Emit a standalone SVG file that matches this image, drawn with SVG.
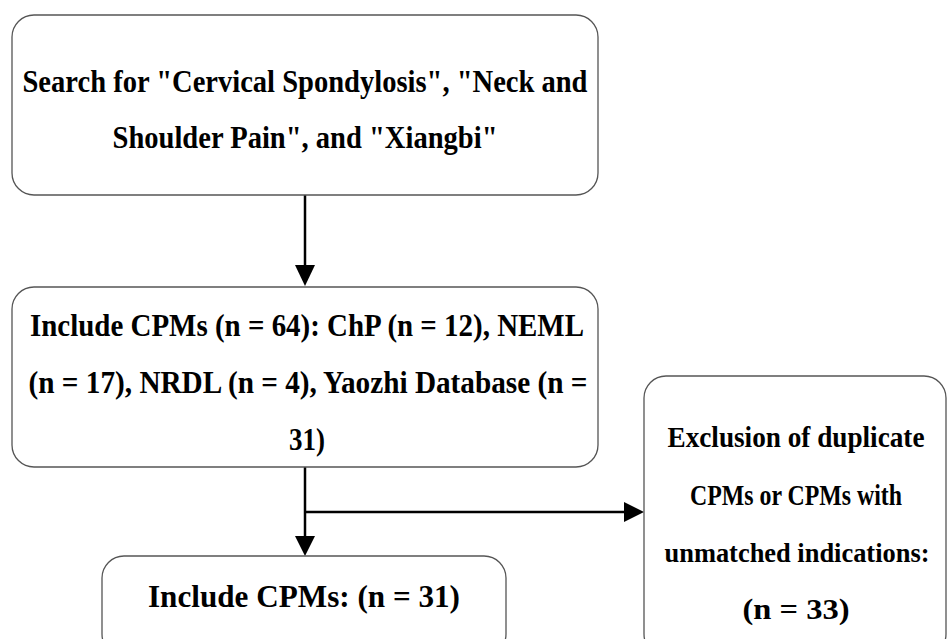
<svg xmlns="http://www.w3.org/2000/svg" width="948" height="639" viewBox="0 0 948 639">
<defs>
<style>
.box{fill:#fff;stroke:#555;stroke-width:1.3}
.t{font-family:"Liberation Serif","Times New Roman",serif;font-weight:bold;font-size:31px;fill:#000;text-anchor:middle}
.s{font-size:29px}
.xs{font-size:27px}
.c{stroke:#000;stroke-width:2.5;fill:none}
</style>
</defs>
<rect width="948" height="639" fill="#fff"/>
<g id="connectors">
<line class="c" x1="305" y1="195" x2="305" y2="266"/>
<path d="M295,265 L315,265 L305,286 Z" fill="#000"/>
<line class="c" x1="305" y1="467" x2="305" y2="537"/>
<path d="M295,536 L315,536 L305,556 Z" fill="#000"/>
<line class="c" x1="305" y1="512" x2="625" y2="512"/>
<path d="M624,502 L644,512 L624,522 Z" fill="#000"/>
</g>
<g id="node1">
<rect class="box" x="12" y="15" width="586" height="180" rx="22"/>
<text class="t" x="305" y="92" textLength="565" lengthAdjust="spacingAndGlyphs">Search for "Cervical Spondylosis", "Neck and</text>
<text class="t" x="305" y="148" textLength="385" lengthAdjust="spacingAndGlyphs">Shoulder Pain", and "Xiangbi"</text>
</g>
<g id="node2">
<rect class="box" x="12" y="287" width="586" height="180" rx="22"/>
<text class="t" x="307" y="336" textLength="554" lengthAdjust="spacingAndGlyphs">Include CPMs (n = 64): ChP (n = 12), NEML</text>
<text class="t" x="308" y="393" textLength="559" lengthAdjust="spacingAndGlyphs">(n = 17), NRDL (n = 4), Yaozhi Database (n =</text>
<text class="t" x="307" y="450" textLength="36" lengthAdjust="spacingAndGlyphs">31)</text>
</g>
<g id="node3">
<rect class="box" x="102" y="556" width="404" height="100" rx="22"/>
<text class="t" x="304" y="607" textLength="312" lengthAdjust="spacingAndGlyphs">Include CPMs: (n = 31)</text>
</g>
<g id="node4">
<rect class="box" x="644" y="376" width="302" height="280" rx="22"/>
<text class="t s" x="796" y="447" textLength="257" lengthAdjust="spacingAndGlyphs">Exclusion of duplicate</text>
<text class="t s" x="796" y="505" textLength="212" lengthAdjust="spacingAndGlyphs">CPMs or CPMs with</text>
<text class="t xs" x="797" y="562" textLength="265" lengthAdjust="spacingAndGlyphs">unmatched indications:</text>
<text class="t s" x="796" y="619" textLength="107" lengthAdjust="spacingAndGlyphs">(n = 33)</text>
</g>
</svg>
